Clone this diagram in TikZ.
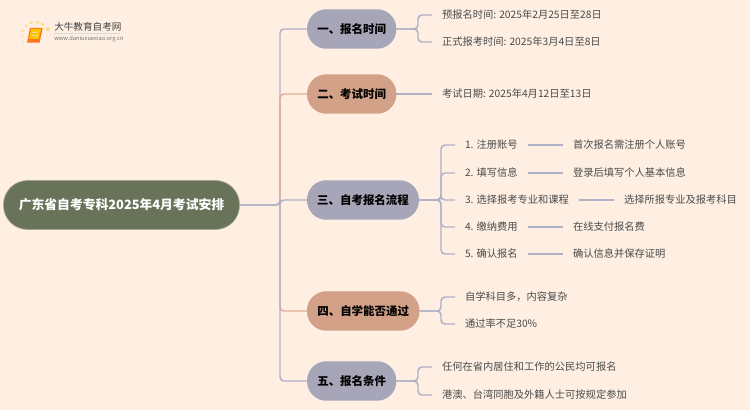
\documentclass[tikz,border=0pt]{standalone}
\usepackage{fontspec}
\setmainfont{Noto Sans CJK SC}
\definecolor{bgc}{HTML}{FEEFE2}
\definecolor{greyb}{HTML}{A6A6B8}
\definecolor{tanc}{HTML}{D2A187}
\definecolor{olive}{HTML}{69735A}
\definecolor{txt}{HTML}{4A4A4A}
\definecolor{lineg}{HTML}{B0B0C6}
\definecolor{linet}{HTML}{E0AE92}
\definecolor{dotc}{HTML}{FBDD8A}
\tikzset{
  x=0.75pt,y=-0.75pt,
  pill/.style={rounded corners=14.5pt,inner sep=0,outer sep=0,font=\fontsize{8.6}{11}\bfseries,text=black,minimum height=29.6pt},
  rootn/.style={pill,fill=olive,draw=olive!60!bgc,line width=.5pt,text=white,rounded corners=18pt,minimum height=36.7pt,minimum width=177pt,font=\fontsize{9.6}{12}\bfseries},
  gp/.style={pill,fill=greyb},
  tp/.style={pill,fill=tanc},
  leaf/.style={anchor=west,inner ysep=0,inner xsep=7.5pt,outer sep=0,text=txt,font=\fontsize{7.7}{10}\selectfont},
  gl/.style={draw=lineg,line width=1.1pt,rounded corners=3pt},
  tl/.style={draw=linet,line width=1.1pt,rounded corners=3pt},
}
\begin{document}
\begin{tikzpicture}
\useasboundingbox (0,0) rectangle (750,410);
\fill[bgc] (0,0) rectangle (750,410);
% logo
\foreach \a/\b/\r in {47.7/29/2.2,42.7/24.3/1.8,37.7/22.3/1.8,31.3/22.7/1.7,26/25.7/1.4,22.7/30.7/1.3,22/36.3/1.1,23.3/42.3/.9}{\fill[dotc] (\a,\b) circle[radius=\r];}
\fill[orange!80!red!90] (30,28) -- (42.7,28) -- (39.5,42.7) -- (27,42.7) -- cycle;
\fill[yellow!60!orange] (31,29) -- (41,29) -- (38.5,39) -- (29,39) -- cycle;
\draw[bgc!70!orange,line width=.5pt] (32,32.5) -- (38,32.5) (31.6,35) -- (37.6,35);
\node[inner sep=0,anchor=west,text=black!75,font=\fontsize{7.2}{9}\selectfont] (logot) at (54,27) {大牛教育自考网};
\node[inner sep=0,anchor=west,text=black!55,font=\fontsize{4.3}{6}\selectfont] (logou) at (54,39) {www.daniuxuexiao.org.cn};
\draw[black!15,line width=.4pt] (54,33.5) -- (120,33.5);
% nodes
\node[rootn] (root) at (121.5,205) {广东省自考专科2025年4月考试安排};
\node[gp,minimum width=67pt] (n1) at (351.7,29) {一、报名时间};
\node[tp,minimum width=67pt] (n2) at (351.7,94) {二、考试时间};
\node[gp,minimum width=84pt] (n3) at (363,200) {三、自考报名流程};
\node[tp,minimum width=84.4pt] (n4) at (363.2,311) {四、自学能否通过};
\node[gp,minimum width=67pt] (n5) at (351.7,381) {五、报名条件};
% leaves
\node[leaf] (a1) at (432,15) {预报名时间: 2025年2月25日至28日};
\node[leaf] (a2) at (432,42) {正式报考时间: 2025年3月4日至8日};
\node[leaf] (b1) at (432,94) {考试日期: 2025年4月12日至13日};
\node[leaf] (c1) at (455,145) {1. 注册账号};
\node[leaf] (c2) at (455,173) {2. 填写信息};
\node[leaf] (c3) at (455,200) {3. 选择报考专业和课程};
\node[leaf] (c4) at (455,227) {4. 缴纳费用};
\node[leaf] (c5) at (455,254) {5. 确认报名};
\node[leaf] (d1) at (563,145) {首次报名需注册个人账号};
\node[leaf] (d2) at (563,173) {登录后填写个人基本信息};
\node[leaf] (d3) at (614,200) {选择所报专业及报考科目};
\node[leaf] (d4) at (563,227) {在线支付报名费};
\node[leaf] (d5) at (563,254) {确认信息并保存证明};
\node[leaf] (e1) at (455,297) {自学科目多，内容复杂};
\node[leaf] (e2) at (455,324) {通过率不足30\%};
\node[leaf] (f1) at (432,367) {任何在省内居住和工作的公民均可报名};
\node[leaf] (f2) at (432,395) {港澳、台湾同胞及外籍人士可按规定参加};
% trunk
\coordinate (tk) at (280,205);
\coordinate (v1) at (418,29);
\coordinate (v3) at (441,200);
\coordinate (v4) at (441,311);
\coordinate (v5) at (418,381);
\draw[gl] (root.east) -- (tk) |- (n1.west);
\draw[tl] (tk) |- (n2.west);
\draw[gl] (root.east) -- (tk) |- (n3.west);
\draw[tl] (tk) |- (n4.west);
\draw[gl] (tk) |- (n5.west);
% branches
\foreach \p/\v/\q in {n1/v1/a1,n1/v1/a2,n3/v3/c1,n3/v3/c2,n3/v3/c3,n3/v3/c4,n3/v3/c5,n4/v4/e1,n4/v4/e2,n5/v5/f1,n5/v5/f2}{
  \draw[gl] (\p.east) -- (\v) |- (\q.west);
}
\draw[gl] (n2.east) -- (b1.west);
\foreach \p/\q in {c1/d1,c2/d2,c3/d3,c4/d4,c5/d5}{\draw[gl] (\p.east) -- (\q.west);}
\end{tikzpicture}
\end{document}
